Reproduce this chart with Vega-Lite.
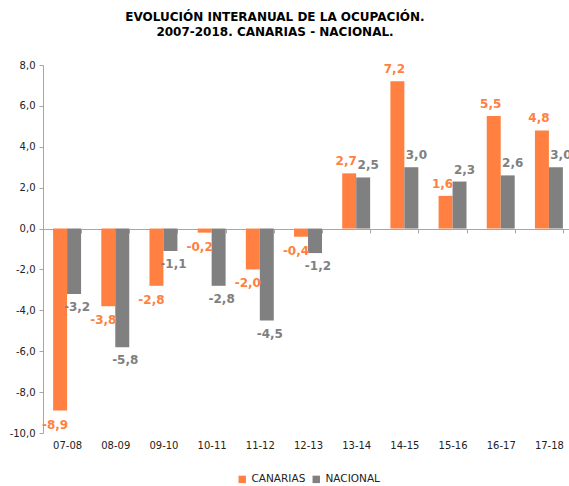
{
  "$schema": "https://vega.github.io/schema/vega-lite/v6.json",
  "width": 530,
  "height": 368,
  "padding": {"left": 9, "top": 11, "right": 0, "bottom": 0},
  "config": {
    "view": {"stroke": null},
    "font": "DejaVu Sans",
    "legend": {"layout": {"bottom": {"anchor": "middle"}}},
    "locale": {"number": {"decimal": ",", "thousands": ".", "grouping": [3], "currency": ["", " €"], "minus": "-"}}
  },
  "title": {
    "text": ["EVOLUCIÓN INTERANUAL DE LA OCUPACIÓN.", "2007-2018. CANARIAS - NACIONAL."],
    "font": "DejaVu Sans",
    "fontSize": 12,
    "fontWeight": "bold",
    "color": "#000000",
    "lineHeight": 15,
    "offset": 21,
    "dx": -33
  },
  "data": {
    "values": [
      {"periodo": "07-08", "serie": "CANARIAS", "valor": -8.9},
      {"periodo": "07-08", "serie": "NACIONAL", "valor": -3.2},
      {"periodo": "08-09", "serie": "CANARIAS", "valor": -3.8},
      {"periodo": "08-09", "serie": "NACIONAL", "valor": -5.8},
      {"periodo": "09-10", "serie": "CANARIAS", "valor": -2.8},
      {"periodo": "09-10", "serie": "NACIONAL", "valor": -1.1},
      {"periodo": "10-11", "serie": "CANARIAS", "valor": -0.2},
      {"periodo": "10-11", "serie": "NACIONAL", "valor": -2.8},
      {"periodo": "11-12", "serie": "CANARIAS", "valor": -2.0},
      {"periodo": "11-12", "serie": "NACIONAL", "valor": -4.5},
      {"periodo": "12-13", "serie": "CANARIAS", "valor": -0.4},
      {"periodo": "12-13", "serie": "NACIONAL", "valor": -1.2},
      {"periodo": "13-14", "serie": "CANARIAS", "valor": 2.7},
      {"periodo": "13-14", "serie": "NACIONAL", "valor": 2.5},
      {"periodo": "14-15", "serie": "CANARIAS", "valor": 7.2},
      {"periodo": "14-15", "serie": "NACIONAL", "valor": 3.0},
      {"periodo": "15-16", "serie": "CANARIAS", "valor": 1.6},
      {"periodo": "15-16", "serie": "NACIONAL", "valor": 2.3},
      {"periodo": "16-17", "serie": "CANARIAS", "valor": 5.5},
      {"periodo": "16-17", "serie": "NACIONAL", "valor": 2.6},
      {"periodo": "17-18", "serie": "CANARIAS", "valor": 4.8},
      {"periodo": "17-18", "serie": "NACIONAL", "valor": 3.0}
    ]
  },
  "encoding": {
    "x": {"field": "periodo", "type": "nominal", "sort": null, "title": null,
          "scale": {"paddingInner": 0.42, "paddingOuter": 0.21},
          "axis": {"orient": "bottom", "offset": -204, "domain": true, "ticks": true, "tickBand": "extent",
                   "domainColor": "#A6A6A6", "tickColor": "#A6A6A6", "tickSize": 4,
                   "labelAngle": 0, "labelPadding": 207, "labelFontSize": 10, "labelColor": "#222222",
                   "labelFont": "DejaVu Sans"}},
    "xOffset": {"field": "serie", "type": "nominal", "sort": ["CANARIAS", "NACIONAL"], "scale": {"paddingInner": 0}},
    "y": {"field": "valor", "type": "quantitative", "title": null,
          "scale": {"domain": [-10, 8], "nice": false},
          "axis": {"values": [-10, -8, -6, -4, -2, 0, 2, 4, 6, 8], "format": ".1f", "grid": false,
                   "domainColor": "#A6A6A6", "tickColor": "#A6A6A6", "tickSize": 4,
                   "labelFontSize": 10, "labelColor": "#222222", "labelPadding": 4, "labelFont": "DejaVu Sans"}}
  },
  "layer": [
    {
      "mark": {"type": "bar"},
      "encoding": {
        "color": {"field": "serie", "type": "nominal", "sort": ["CANARIAS", "NACIONAL"],
                  "scale": {"domain": ["CANARIAS", "NACIONAL"], "range": ["#FF8040", "#808080"]},
                  "legend": {"orient": "bottom", "direction": "horizontal", "title": null, "symbolType": "square",
                             "symbolSize": 55, "labelFontSize": 10.5, "labelColor": "#222222", "columnPadding": 5,
                             "offset": 24, "labelFont": "DejaVu Sans", "symbolStrokeWidth": 0, "labelOffset": 4}}
      }
    },
    {
      "transform": [{"filter": "datum.serie == 'CANARIAS' && datum.valor >= 0"}],
      "mark": {"type": "text", "baseline": "bottom", "dy": -5, "dx": -3, "fontWeight": "bold", "fontSize": 12, "color": "#FF8040"},
      "encoding": {"text": {"field": "valor", "type": "quantitative", "format": ".1f"}}
    },
    {
      "transform": [{"filter": "datum.serie == 'CANARIAS' && datum.valor < 0"}],
      "mark": {"type": "text", "baseline": "top", "dy": 9, "dx": -5, "fontWeight": "bold", "fontSize": 12, "color": "#FF8040"},
      "encoding": {"text": {"field": "valor", "type": "quantitative", "format": ".1f"}}
    },
    {
      "transform": [{"filter": "datum.serie == 'NACIONAL' && datum.valor >= 0"}],
      "mark": {"type": "text", "baseline": "bottom", "dy": -5, "dx": 5, "fontWeight": "bold", "fontSize": 12, "color": "#808080"},
      "encoding": {"text": {"field": "valor", "type": "quantitative", "format": ".1f"}}
    },
    {
      "transform": [{"filter": "datum.serie == 'NACIONAL' && datum.valor < 0"}],
      "mark": {"type": "text", "baseline": "top", "dy": 8, "dx": 3, "fontWeight": "bold", "fontSize": 12, "color": "#808080"},
      "encoding": {"text": {"field": "valor", "type": "quantitative", "format": ".1f"}}
    }
  ]
}
